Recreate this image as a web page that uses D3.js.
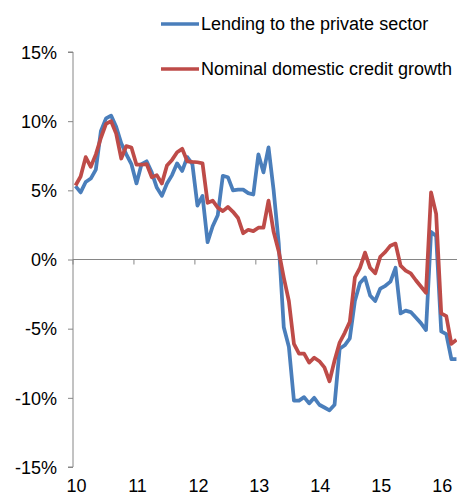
<!DOCTYPE html>
<html>
<head>
<meta charset="utf-8">
<script src="https://cdn.jsdelivr.net/npm/d3@7"></script>
<style>
  body { margin: 0; background: #fff; }
  text { font-family: "Liberation Sans", Arial, sans-serif; font-size: 18px; fill: #000; }
</style>
</head>
<body>
<div id="vis1"></div>
<script>
// monthly data, Jan 2010 .. Apr 2016 (y/y %)
let lending = [
  5.3, 4.85, 5.6, 5.85, 6.5, 9.3, 10.2, 10.4, 9.6, 8.4, 7.6, 6.9,
  5.5, 6.9, 7.1, 6.3, 5.2, 4.6, 5.5, 6.1, 6.95, 6.4, 7.4, 6.9,
  3.9, 4.6, 1.25, 2.4, 3.2, 6.05, 5.95, 5.0, 5.05, 5.05, 4.8, 4.7,
  7.6, 6.3, 8.1, 5.0, 1.2, -4.9, -6.3, -10.2, -10.2, -9.95, -10.4, -10.0,
  -10.5, -10.7, -10.9, -10.5, -6.45, -6.2, -5.7, -3.0, -1.7, -1.3, -2.6, -3.0,
  -2.1, -1.9, -1.6, -0.6, -3.9, -3.7, -3.8, -4.2, -4.6, -5.1, 2.0, 1.7,
  -5.2, -5.4, -7.2, -7.2
];
let credit = [
  5.35, 6.0, 7.4, 6.7, 7.6, 8.8, 9.8, 10.0, 9.1, 7.3, 8.2, 8.1,
  6.85, 6.85, 6.9, 5.95, 6.1, 5.5, 6.8, 7.2, 7.75, 8.0, 7.1, 7.05,
  7.03, 6.95, 4.1, 4.25, 3.75, 3.5, 3.8, 3.45, 3.0, 1.9, 2.15, 2.05,
  2.3, 2.3, 4.25, 2.0, 0.6, -1.3, -3.0, -6.1, -6.8, -6.8, -7.45, -7.1,
  -7.35, -7.8, -8.8, -7.3, -6.0, -5.3, -4.5, -1.3, -0.6, 0.5, -0.6, -1.0,
  0.2, 0.55, 1.0, 1.15, -0.45, -0.8, -1.0, -1.5, -1.95, -2.4, 4.85, 3.3,
  -3.9, -4.1, -6.1, -5.8
];
let months = d3.timeMonth.range(new Date(2010, 0, 1), new Date(2016, 4, 1));
let yearLabels = ["10", "11", "12", "13", "14", "15", "16"];
let yTicks = [-15, -10, -5, 0, 5, 10, 15];
let seriesNames = ["Lending to the private sector", "Nominal domestic credit growth"];
let colors = ["#4a7ebb", "#be4b48"];

let W = 457, H = 495;
let plotL = 73, plotR = 459, plotT = 52, plotB = 467;

let svg = d3.select('#vis1')
  .append('svg')
  .attr("width", W)
  .attr("height", H);

let x = d3.scaleBand().domain(months.map((d, i) => i)).range([plotL, plotR]).padding(0);
let y = d3.scaleLinear().domain([-15, 15]).range([plotB, plotT]);
let xc = i => x(i) + x.bandwidth() / 2;

// y axis
let yAxis = svg.append("g")
  .attr("transform", `translate(${plotL},0)`)
  .call(d3.axisLeft(y).tickValues(yTicks).tickSize(5).tickPadding(11).tickFormat(d => d + "%"));
yAxis.select(".domain").attr("stroke", "#868686").attr("d", `M-5,${plotB}H0V${plotT}H-5`);
yAxis.selectAll(".tick line").attr("stroke", "#868686");
yAxis.selectAll(".tick text").attr("font-size", null).attr("font-family", null).style("font-size", "18px").attr("dy", "0.35em");

// x axis on zero line
let yearIdx = months.map((d, i) => i).filter(i => months[i].getMonth() == 0);
let xAxis = svg.append("g")
  .attr("transform", `translate(0,${y(0)})`);
xAxis.append("line")
  .attr("x1", plotL).attr("x2", plotR)
  .attr("stroke", "#868686");
xAxis.selectAll("line.tk")
  .data(yearIdx)
  .join("line")
  .attr("class", "tk")
  .attr("x1", d => x(d)).attr("x2", d => x(d))
  .attr("y1", 0).attr("y2", 5)
  .attr("stroke", "#868686");

// year labels at the bottom
svg.append("g")
  .selectAll("text")
  .data(yearIdx)
  .join("text")
  .attr("x", d => xc(d) + 1)
  .attr("y", 492)
  .attr("text-anchor", "middle")
  .text((d, i) => yearLabels[i]);

// lines
let line = d3.line().x((d, i) => xc(i)).y(d => y(d));
[lending, credit].forEach(function (s, k) {
  svg.append("path")
    .datum(s)
    .attr("d", line)
    .attr("fill", "none")
    .attr("stroke", colors[k])
    .attr("stroke-width", 3.75)
    .attr("stroke-linejoin", "round");
});

// legend
let legend = svg.append("g")
  .selectAll("g")
  .data(seriesNames)
  .join("g")
  .attr("transform", (d, i) => `translate(161, ${24 + i * 45})`);
legend.append("line")
  .attr("x1", 0).attr("x2", 38)
  .attr("stroke", (d, i) => colors[i])
  .attr("stroke-width", 3.5);
legend.append("text")
  .attr("x", 40)
  .attr("y", 6)
  .text(d => d);
</script>
</body>
</html>
